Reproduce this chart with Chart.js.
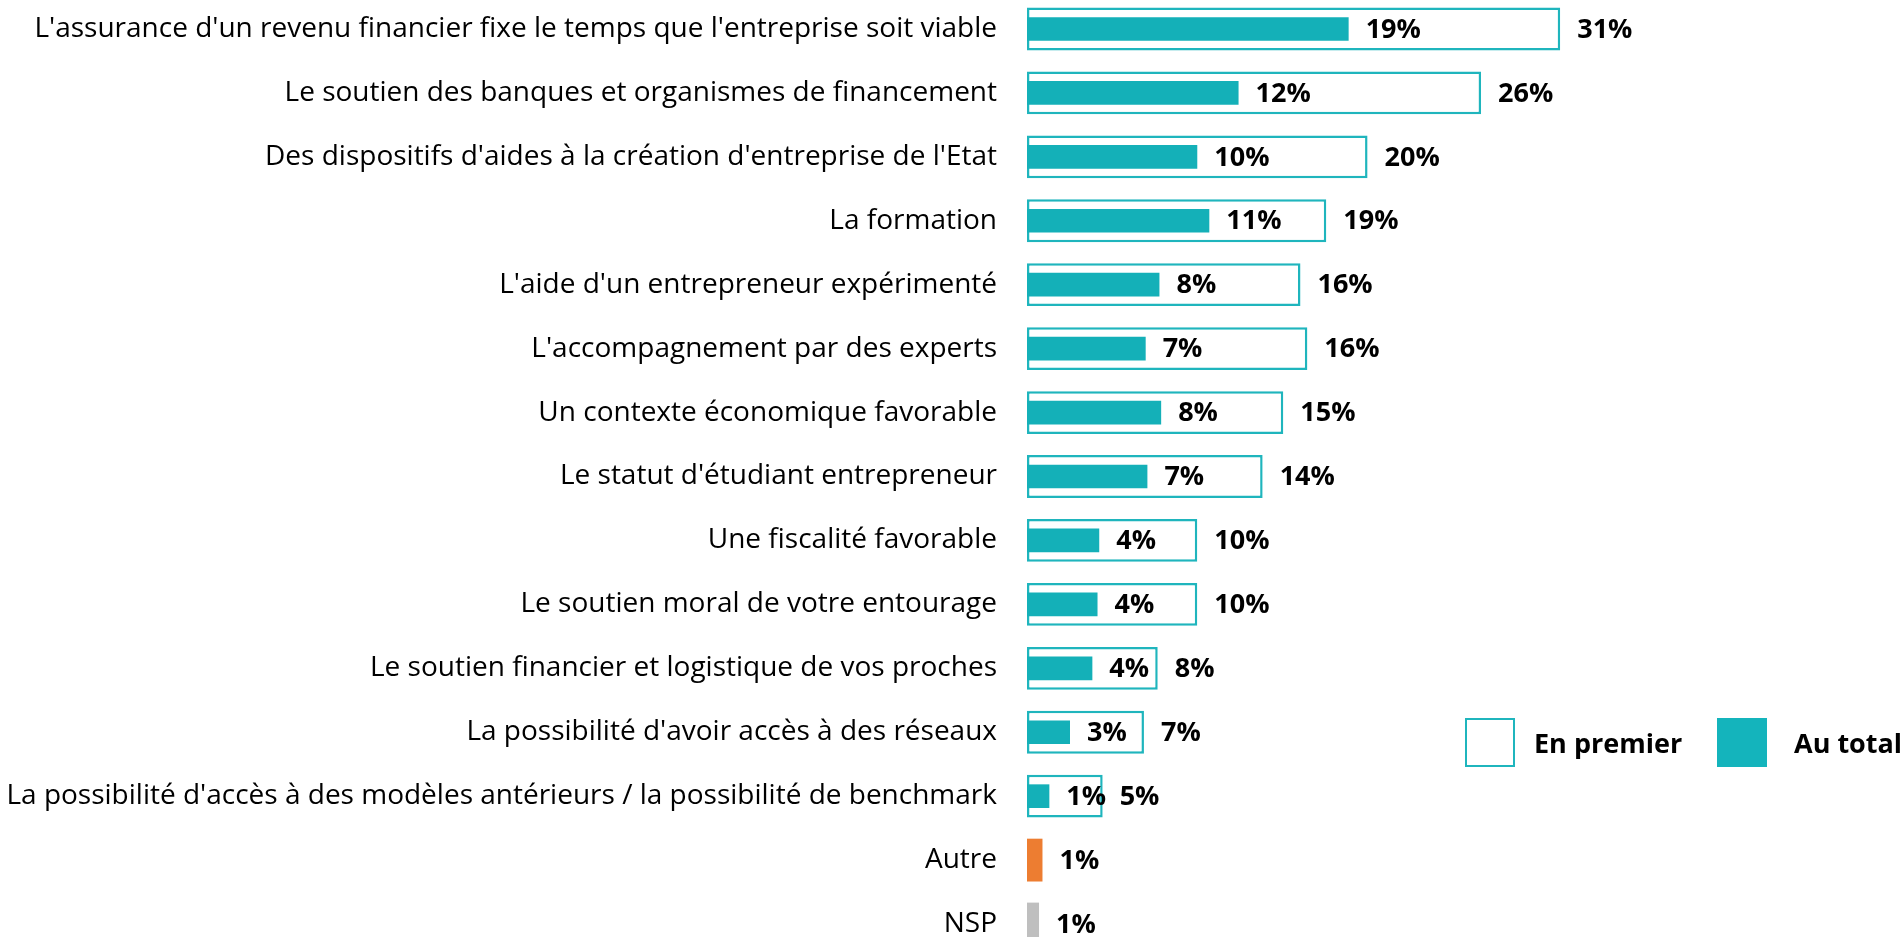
<!DOCTYPE html>
<html>
<head>
<meta charset="utf-8">
<script src="https://cdn.jsdelivr.net/npm/chart.js@4"></script>
<style>
    html, body { margin: 0; padding: 0; background: #fff; overflow: hidden; }
    body { width: 1901px; height: 937px; position: relative; font-family: 'Open Sans', sans-serif; }
    #wrap { position: absolute; left: 0; top: -20px; width: 1901px; height: 1000px; }
    .legend-item { position: absolute; top: 718px; height: 49px; display: flex; align-items: center; font-weight: bold; font-size: 27px; color: #000; white-space: nowrap; }
    .legend-box { width: 46px; height: 45px; box-sizing: content-box; }
</style>
</head>
<body>
<div id="wrap"><canvas id="chart"></canvas></div>
<div class="legend-item" style="left:1465px"><div class="legend-box" style="border:2px solid #1fb5bd;background:#fff;margin-right:19px"></div>En premier</div>
<div class="legend-item" style="left:1717px"><div class="legend-box" style="border:2px solid #14b4bc;background:#14b4bc;margin-right:27px"></div>Au total</div>
<script>
const categories = [
    "L'assurance d'un revenu financier fixe le temps que l'entreprise soit viable",
    "Le soutien des banques et organismes de financement",
    "Des dispositifs d'aides à la création d'entreprise de l'Etat",
    "La formation",
    "L'aide d'un entrepreneur expérimenté",
    "L'accompagnement par des experts",
    "Un contexte économique favorable",
    "Le statut d'étudiant entrepreneur",
    "Une fiscalité favorable",
    "Le soutien moral de votre entourage",
    "Le soutien financier et logistique de vos proches",
    "La possibilité d'avoir accès à des réseaux",
    "La possibilité d'accès à des modèles antérieurs / la possibilité de benchmark",
    "Autre",
    "NSP"
];

// outlined bars (legend "En premier") - bar lengths as drawn, labels as printed
const enPremier = [31, 26.4, 19.8, 17.4, 15.9, 16.3, 14.9, 13.7, 9.9, 9.9, 7.6, 6.8, 4.4, 0.9, 0.7];
const enPremierLabels = ['31%', '26%', '20%', '19%', '16%', '16%', '15%', '14%', '10%', '10%', '8%', '7%', '5%', '1%', '1%'];

// filled bars (legend "Au total")
const auTotal = [18.7, 12.3, 9.9, 10.6, 7.7, 6.9, 7.8, 7.0, 4.2, 4.1, 3.8, 2.5, 1.3, null, null];
const auTotalLabels = ['19%', '12%', '10%', '11%', '8%', '7%', '8%', '7%', '4%', '4%', '4%', '3%', '1%', '', ''];

const teal = '#14b0b8';
const outline = '#1fb5bd';
const outerFill = categories.map(c => c === 'Autre' ? '#ed7d31' : c === 'NSP' ? '#bfbfbf' : '#ffffff');
const outerBorder = categories.map(c => (c === 'Autre' || c === 'NSP') ? 'rgba(0,0,0,0)' : outline);
const outerBorderW = categories.map(c => (c === 'Autre' || c === 'NSP') ? 0 : 2.5);

const valueLabels = {
    id: 'valueLabels',
    afterDatasetsDraw(chart) {
        const ctx = chart.ctx;
        ctx.save();
        ctx.font = 'bold 27px "Open Sans"';
        ctx.fillStyle = '#000';
        ctx.textAlign = 'left';
        ctx.textBaseline = 'middle';
        chart.data.datasets.forEach((ds, i) => {
            const meta = chart.getDatasetMeta(i);
            meta.data.forEach((bar, j) => {
                const txt = ds.valueText[j];
                if (!txt) return;
                ctx.fillText(txt, bar.x + 17, bar.y + 1);
            });
        });
        ctx.restore();
    }
};

new Chart(document.getElementById('chart'), {
    type: 'bar',
    data: {
        labels: categories,
        datasets: [
            {
                label: 'Au total',
                data: auTotal,
                valueText: auTotalLabels,
                backgroundColor: teal,
                borderWidth: 0,
                barPercentage: 0.37,
                categoryPercentage: 1,
                order: 0
            },
            {
                label: 'En premier',
                data: enPremier,
                valueText: enPremierLabels,
                backgroundColor: outerFill,
                borderColor: outerBorder,
                borderWidth: outerBorderW,
                borderSkipped: false,
                barPercentage: 0.67,
                categoryPercentage: 1,
                order: 1
            }
        ]
    },
    options: {
        indexAxis: 'y',
        responsive: true,
        maintainAspectRatio: false,
        animation: false,
        layout: { padding: { left: 0, right: 14, top: 17, bottom: 24 } },
        plugins: {
            legend: { display: false },
            tooltip: { enabled: false }
        },
        scales: {
            x: {
                display: false,
                min: 0,
                max: 50
            },
            y: {
                grid: { display: false, drawTicks: false },
                border: { display: false },
                afterFit(scale) {
                    scale.width = 1027;
                    scale.paddingTop = 0;
                    scale.paddingBottom = 0;
                },
                ticks: {
                    padding: 30,
                    color: '#000',
                    font: { family: 'Open Sans', size: 28 }
                }
            }
        },
        datasets: { bar: { grouped: false } }
    },
    plugins: [valueLabels]
});
</script>
</body>
</html>
